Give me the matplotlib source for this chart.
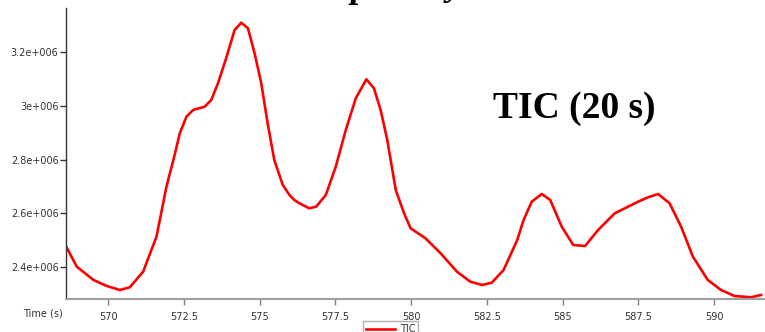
import matplotlib
matplotlib.use("Agg")
import matplotlib.pyplot as plt
from matplotlib.ticker import FuncFormatter, FixedLocator

# TIC trace (time in s, intensity)
time_s = [568.61, 568.96, 569.51, 569.95, 570.38, 570.71, 571.15, 571.59, 571.92,
          572.19, 572.36, 572.58, 572.80, 573.18, 573.40, 573.62, 573.89, 574.17,
          574.39, 574.61, 574.83, 575.05, 575.26, 575.48, 575.76, 575.98, 576.14,
          576.31, 576.63, 576.86, 577.18, 577.51, 577.84, 578.17, 578.52, 578.77,
          578.99, 579.21, 579.49, 579.76, 579.98, 580.47, 580.97, 581.51, 581.95,
          582.34, 582.66, 583.05, 583.50, 583.71, 583.98, 584.31, 584.59, 584.97,
          585.35, 585.74, 586.17, 586.72, 587.49, 587.82, 588.15, 588.53, 588.91,
          589.30, 589.79, 590.23, 590.67, 591.22, 591.55]
tic = [2.4747e6, 2.4001e6, 2.3505e6, 2.3281e6, 2.3131e6, 2.3232e6, 2.3814e6, 2.5120e6,
       2.6986e6, 2.8168e6, 2.8978e6, 2.9597e6, 2.9847e6, 2.9970e6, 3.0220e6, 3.0843e6,
       3.1776e6, 3.2832e6, 3.3104e6, 3.2895e6, 3.1963e6, 3.0843e6, 2.9351e6, 2.7982e6,
       2.7049e6, 2.6676e6, 2.6489e6, 2.6366e6, 2.6180e6, 2.6239e6, 2.6676e6, 2.7732e6,
       2.9101e6, 3.0284e6, 3.0993e6, 3.0657e6, 2.9847e6, 2.8728e6, 2.6862e6, 2.6004e6,
       2.5433e6, 2.5060e6, 2.4501e6, 2.3814e6, 2.3441e6, 2.3318e6, 2.3404e6, 2.3878e6,
       2.4997e6, 2.5743e6, 2.6426e6, 2.6713e6, 2.6489e6, 2.5493e6, 2.4810e6, 2.4773e6,
       2.5370e6, 2.5993e6, 2.6426e6, 2.6590e6, 2.6713e6, 2.6366e6, 2.5493e6, 2.4374e6,
       2.3505e6, 2.3131e6, 2.2908e6, 2.2859e6, 2.2945e6]

x_ticks = [570, 572.5, 575, 577.5, 580, 582.5, 585, 587.5, 590]
y_ticks = [2.4e6, 2.6e6, 2.8e6, 3.0e6, 3.2e6]


def sci_label(v, pos):
    mant = v / 1e6
    return '{:g}e+006'.format(round(mant, 3))


fig = plt.figure(figsize=(7.65, 3.32), dpi=100)
ax = fig.add_axes([65.5 / 765, 1 - 299 / 332, 1 - 65.5 / 765, (299 - 8) / 332])

ax.plot(time_s, tic, color='#ff0000', lw=1.9, label='TIC', solid_joinstyle='round')

ax.set_xlim(568.587, 591.68)
ax.set_ylim(2.2795e6, 3.3653e6)

ax.xaxis.set_major_locator(FixedLocator(x_ticks))
ax.yaxis.set_major_locator(FixedLocator(y_ticks))
ax.xaxis.set_major_formatter(FuncFormatter(lambda v, p: '{:g}'.format(v)))
ax.yaxis.set_major_formatter(FuncFormatter(sci_label))

for s in ['top', 'right']:
    ax.spines[s].set_visible(False)
ax.spines['left'].set_color('#333333')
ax.spines['left'].set_linewidth(1.0)
ax.spines['bottom'].set_color('#a0a0a0')
ax.spines['bottom'].set_linewidth(1.5)

ax.tick_params(axis='y', direction='out', length=4, width=1, color='#333333',
               labelsize=7, labelcolor='#333333', pad=1)
ax.tick_params(axis='x', direction='out', length=4, width=1, color='#808080',
               labelsize=7, labelcolor='#333333', pad=5)

fig.text(43 / 765, 1 - 314 / 332, 'Time (s)', ha='center', va='center',
         fontsize=7, color='#333333')

# annotation inside the plot
fig.text(493 / 765, 1 - 109 / 332, 'TIC (20 s)', ha='left', va='center',
         fontsize=27, fontweight='bold', family='Liberation Serif', color='black')

# title cropped off at the top edge, only descenders remain
fig.text(351 / 765, 1 + 3 / 332, 'p', ha='left', va='baseline', fontsize=26,
         fontweight='bold', style='italic', family='Liberation Serif')
fig.text(447 / 765, 1 + 5 / 332, 'y', ha='left', va='baseline', fontsize=26,
         fontweight='bold', style='italic', family='Liberation Serif')

leg = fig.legend(loc='upper left', bbox_to_anchor=(363 / 765, 1 - 321 / 332),
                 bbox_transform=fig.transFigure, borderaxespad=0, fontsize=7,
                 handlelength=3.0, handletextpad=0.5, borderpad=0.3,
                 fancybox=False, framealpha=1)
leg.get_frame().set_edgecolor('#b0b0b0')
leg.get_frame().set_linewidth(1.0)
for t in leg.get_texts():
    t.set_color('#333333')

fig.savefig('out.png', dpi=100)
